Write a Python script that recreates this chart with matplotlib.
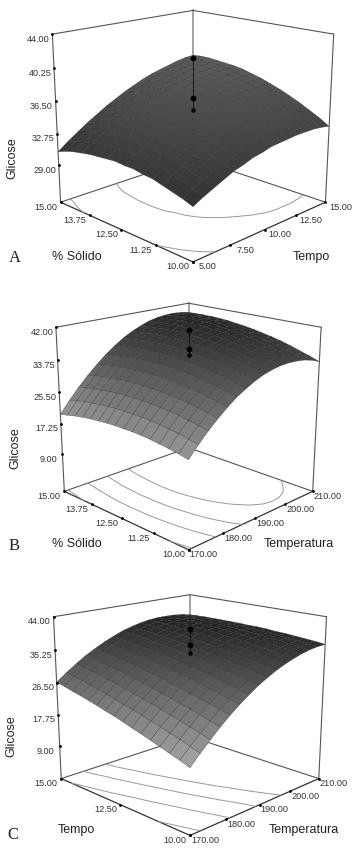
import numpy as np
import matplotlib
matplotlib.use('Agg')
import matplotlib.pyplot as plt
from mpl_toolkits.mplot3d import proj3d

plt.rcParams['font.family'] = ['Liberation Sans', 'DejaVu Sans']

# valores
tempo_grid = [5.0, 5.67, 6.33, 7.0, 7.67, 8.33, 9.0, 9.67, 10.33, 11.0, 11.67, 12.33, 13.0, 13.67, 14.33, 15.0]
temp_grid = [170.0, 172.67, 175.33, 178.0, 180.67, 183.33, 186.0, 188.67, 191.33, 194.0, 196.67, 199.33, 202.0, 204.67, 207.33, 210.0]
solido_grid = [10.0, 10.33, 10.67, 11.0, 11.33, 11.67, 12.0, 12.33, 12.67, 13.0, 13.33, 13.67, 14.0, 14.33, 14.67, 15.0]

z_a = [
    [30.3, 30.9, 31.4, 31.9, 32.4, 32.7, 33.1, 33.3, 33.6, 33.7, 33.8, 33.9, 33.9, 33.9, 33.8, 33.6],
    [30.7, 31.3, 31.9, 32.4, 32.8, 33.2, 33.6, 33.9, 34.1, 34.3, 34.4, 34.5, 34.5, 34.5, 34.4, 34.3],
    [31.0, 31.7, 32.2, 32.8, 33.2, 33.7, 34.0, 34.3, 34.6, 34.8, 35.0, 35.1, 35.1, 35.1, 35.0, 34.9],
    [31.3, 32.0, 32.6, 33.1, 33.6, 34.0, 34.4, 34.8, 35.0, 35.3, 35.4, 35.6, 35.6, 35.6, 35.6, 35.5],
    [31.6, 32.2, 32.8, 33.4, 33.9, 34.4, 34.8, 35.1, 35.4, 35.7, 35.9, 36.0, 36.1, 36.1, 36.1, 36.0],
    [31.7, 32.4, 33.1, 33.6, 34.2, 34.7, 35.1, 35.5, 35.8, 36.0, 36.2, 36.4, 36.5, 36.6, 36.6, 36.5],
    [31.9, 32.6, 33.2, 33.8, 34.4, 34.9, 35.3, 35.7, 36.1, 36.3, 36.6, 36.7, 36.9, 36.9, 37.0, 36.9],
    [31.9, 32.7, 33.3, 34.0, 34.5, 35.0, 35.5, 35.9, 36.3, 36.6, 36.8, 37.0, 37.2, 37.3, 37.3, 37.3],
    [32.0, 32.7, 33.4, 34.0, 34.6, 35.2, 35.7, 36.1, 36.5, 36.8, 37.1, 37.3, 37.4, 37.5, 37.6, 37.6],
    [31.9, 32.7, 33.4, 34.1, 34.7, 35.2, 35.7, 36.2, 36.6, 36.9, 37.2, 37.5, 37.6, 37.8, 37.8, 37.9],
    [31.8, 32.6, 33.4, 34.0, 34.7, 35.2, 35.8, 36.2, 36.6, 37.0, 37.3, 37.6, 37.8, 37.9, 38.0, 38.1],
    [31.7, 32.5, 33.3, 34.0, 34.6, 35.2, 35.7, 36.2, 36.7, 37.1, 37.4, 37.7, 37.9, 38.0, 38.2, 38.2],
    [31.5, 32.3, 33.1, 33.8, 34.5, 35.1, 35.7, 36.2, 36.6, 37.0, 37.4, 37.7, 37.9, 38.1, 38.2, 38.3],
    [31.3, 32.1, 32.9, 33.6, 34.3, 35.0, 35.5, 36.1, 36.5, 37.0, 37.3, 37.6, 37.9, 38.1, 38.3, 38.4],
    [31.0, 31.8, 32.6, 33.4, 34.1, 34.8, 35.4, 35.9, 36.4, 36.8, 37.2, 37.6, 37.8, 38.1, 38.2, 38.4],
    [30.6, 31.5, 32.3, 33.1, 33.8, 34.5, 35.1, 35.7, 36.2, 36.7, 37.1, 37.4, 37.7, 38.0, 38.2, 38.3],
]
z_b = [
    [20.1, 22.7, 25.1, 27.2, 29.1, 30.8, 32.1, 33.3, 34.2, 34.8, 35.2, 35.3, 35.2, 34.9, 34.3, 33.4],
    [20.6, 23.2, 25.6, 27.8, 29.7, 31.4, 32.8, 34.0, 34.9, 35.5, 36.0, 36.1, 36.0, 35.7, 35.1, 34.3],
    [21.0, 23.7, 26.1, 28.3, 30.2, 31.9, 33.4, 34.6, 35.5, 36.2, 36.6, 36.8, 36.8, 36.5, 35.9, 35.1],
    [21.3, 24.0, 26.5, 28.7, 30.7, 32.4, 33.9, 35.1, 36.0, 36.8, 37.2, 37.5, 37.4, 37.2, 36.6, 35.9],
    [21.6, 24.3, 26.8, 29.0, 31.0, 32.8, 34.3, 35.5, 36.5, 37.3, 37.8, 38.0, 38.0, 37.8, 37.3, 36.6],
    [21.8, 24.5, 27.0, 29.3, 31.3, 33.1, 34.6, 35.9, 37.0, 37.7, 38.3, 38.5, 38.6, 38.4, 37.9, 37.2],
    [21.9, 24.7, 27.2, 29.5, 31.6, 33.4, 34.9, 36.2, 37.3, 38.1, 38.7, 39.0, 39.0, 38.8, 38.4, 37.7],
    [21.9, 24.7, 27.3, 29.6, 31.7, 33.6, 35.1, 36.5, 37.6, 38.4, 39.0, 39.3, 39.4, 39.3, 38.8, 38.2],
    [21.9, 24.7, 27.3, 29.7, 31.8, 33.7, 35.3, 36.7, 37.8, 38.6, 39.2, 39.6, 39.7, 39.6, 39.2, 38.6],
    [21.8, 24.7, 27.3, 29.7, 31.8, 33.7, 35.4, 36.8, 37.9, 38.8, 39.4, 39.8, 40.0, 39.9, 39.5, 38.9],
    [21.6, 24.5, 27.2, 29.6, 31.8, 33.7, 35.4, 36.8, 38.0, 38.9, 39.6, 40.0, 40.2, 40.1, 39.7, 39.2],
    [21.4, 24.3, 27.0, 29.5, 31.6, 33.6, 35.3, 36.7, 37.9, 38.9, 39.6, 40.0, 40.2, 40.2, 39.9, 39.4],
    [21.1, 24.0, 26.7, 29.2, 31.5, 33.4, 35.2, 36.6, 37.9, 38.8, 39.6, 40.0, 40.3, 40.3, 40.0, 39.5],
    [20.7, 23.7, 26.4, 28.9, 31.2, 33.2, 34.9, 36.4, 37.7, 38.7, 39.5, 40.0, 40.2, 40.2, 40.0, 39.5],
    [20.2, 23.3, 26.0, 28.6, 30.8, 32.9, 34.7, 36.2, 37.5, 38.5, 39.3, 39.8, 40.1, 40.2, 40.0, 39.5],
    [19.7, 22.8, 25.6, 28.1, 30.4, 32.5, 34.3, 35.9, 37.2, 38.2, 39.1, 39.6, 39.9, 40.0, 39.8, 39.4],
]
z_c = [
    [16.3, 18.9, 21.3, 23.6, 25.7, 27.6, 29.3, 30.9, 32.2, 33.4, 34.4, 35.2, 35.9, 36.4, 36.7, 36.8],
    [17.2, 19.7, 22.1, 24.3, 26.4, 28.2, 29.9, 31.4, 32.7, 33.9, 34.9, 35.7, 36.3, 36.7, 37.0, 37.1],
    [18.0, 20.6, 22.9, 25.1, 27.1, 28.9, 30.5, 32.0, 33.3, 34.4, 35.3, 36.1, 36.6, 37.0, 37.2, 37.3],
    [18.8, 21.3, 23.6, 25.8, 27.7, 29.5, 31.1, 32.5, 33.8, 34.8, 35.7, 36.4, 37.0, 37.3, 37.5, 37.5],
    [19.6, 22.1, 24.3, 26.4, 28.4, 30.1, 31.6, 33.0, 34.2, 35.3, 36.1, 36.8, 37.3, 37.6, 37.7, 37.7],
    [20.4, 22.8, 25.0, 27.1, 29.0, 30.7, 32.2, 33.5, 34.7, 35.7, 36.5, 37.1, 37.5, 37.8, 37.9, 37.8],
    [21.1, 23.5, 25.7, 27.7, 29.5, 31.2, 32.7, 34.0, 35.1, 36.0, 36.8, 37.4, 37.8, 38.0, 38.1, 38.0],
    [21.9, 24.2, 26.3, 28.3, 30.1, 31.7, 33.1, 34.4, 35.5, 36.4, 37.1, 37.6, 38.0, 38.2, 38.2, 38.1],
    [22.6, 24.8, 26.9, 28.9, 30.6, 32.2, 33.6, 34.8, 35.8, 36.7, 37.4, 37.9, 38.2, 38.4, 38.4, 38.1],
    [23.2, 25.5, 27.5, 29.4, 31.1, 32.7, 34.0, 35.2, 36.2, 37.0, 37.7, 38.1, 38.4, 38.5, 38.4, 38.2],
    [23.9, 26.1, 28.1, 29.9, 31.6, 33.1, 34.4, 35.5, 36.5, 37.3, 37.9, 38.3, 38.5, 38.6, 38.5, 38.2],
    [24.5, 26.7, 28.6, 30.4, 32.1, 33.5, 34.8, 35.9, 36.8, 37.5, 38.1, 38.5, 38.7, 38.7, 38.6, 38.2],
    [25.1, 27.2, 29.1, 30.9, 32.5, 33.9, 35.1, 36.2, 37.1, 37.8, 38.3, 38.6, 38.8, 38.8, 38.6, 38.2],
    [25.6, 27.7, 29.6, 31.3, 32.9, 34.3, 35.4, 36.5, 37.3, 38.0, 38.4, 38.7, 38.9, 38.8, 38.6, 38.2],
    [26.2, 28.2, 30.1, 31.8, 33.3, 34.6, 35.7, 36.7, 37.5, 38.1, 38.6, 38.8, 38.9, 38.8, 38.5, 38.1],
    [26.7, 28.7, 30.5, 32.2, 33.6, 34.9, 36.0, 37.0, 37.7, 38.3, 38.7, 38.9, 38.9, 38.8, 38.5, 38.0],
]

tempo_ticks = [5.0, 7.5, 10.0, 12.5, 15.0]
temp_ticks = [170.0, 180.0, 190.0, 200.0, 210.0]
solido_ticks = [10.0, 11.25, 12.5, 13.75, 15.0]
glicose_ticks_a = [29.0, 32.75, 36.5, 40.25, 44.0]
glicose_ticks_b = [9.0, 17.25, 25.5, 33.75, 42.0]
glicose_ticks_c = [9.0, 17.75, 26.5, 35.25, 44.0]

pontos_a = [41.4, 36.9, 35.45]
pontos_b = [41.4, 36.7, 35.1]
pontos_c = [40.8, 36.5, 34.6]

niveis_a = [31.5, 35.0]
niveis_b = [21.0, 27.0, 32.0, 36.2]
niveis_c = [19.0, 26.0, 31.0, 34.5]

W, H = 358, 858
fig = plt.figure(figsize=(W / 100, H / 100), dpi=100)


def rotulo(ax, M, x, y, z, txt, dx, dy):
    px, py, _ = proj3d.proj_transform(x, y, z, M)
    ax.annotate(txt, xy=(px, py), xytext=(dx, dy), textcoords='offset pixels',
                ha='center', va='center', fontsize=6.6, color='#333333', annotation_clip=False)


def painel(cx, cy, lado, xs, ys, zs, xticks, yticks, zticks, pontos, niveis, piso, cores, altura=0.95, elev=17):
    # posicao do eixo em pixels da figura
    bottom = H - (cy + 0.5135 * lado)
    ax = fig.add_axes([(cx - 0.5135 * lado) / W, bottom / H, lado / W, lado / H], projection='3d')
    ax.computed_zorder = False
    ax.patch.set_visible(False)
    ax.set_proj_type('persp', focal_length=0.5)
    ax.view_init(elev=elev, azim=-135)
    ax.set_box_aspect((1, 1, altura))
    ax.set_axis_off()

    X, Y = np.meshgrid(xs, ys)
    Z = np.array(zs)
    x0, x1 = xs[0], xs[-1]
    y0, y1 = ys[0], ys[-1]
    topo = zticks[-1]

    # caixa (parte de tras)
    ax.plot([x1, x1], [y1, y1], [piso, topo], color='#8a8a8a', lw=1.1, zorder=1)
    for a, b, c in [([x0, x0], [y1, y1], [piso, topo]), ([x1, x1], [y0, y0], [piso, topo]),
                    ([x0, x1], [y1, y1], [topo, topo]), ([x1, x1], [y1, y0], [topo, topo]),
                    ([x0, x1], [y1, y1], [piso, piso]), ([x1, x1], [y1, y0], [piso, piso])]:
        ax.plot(a, b, c, color='#555555', lw=0.8, zorder=1)
    ax.plot([x0, x0], [y0, y1], [piso, piso], color='#333333', lw=0.9, zorder=1)
    ax.plot([x0, x1], [y0, y0], [piso, piso], color='#333333', lw=0.9, zorder=1)

    ax.contour(X, Y, Z, levels=niveis, zdir='z', offset=piso, colors='#999999', linewidths=0.7, zorder=2)

    # superficie em tons de cinza pela altura
    t = (Z - Z.min()) / (Z.max() - Z.min())
    g = cores[0] + (cores[1] - cores[0]) * t
    fc = np.dstack([g, g, g, np.ones_like(g)])
    ax.plot_surface(X, Y, Z, facecolors=fc, shade=False, rstride=1, cstride=1,
                    edgecolor='#262626', linewidth=0.2, zorder=3)

    # pontos do planejamento
    xm, ym = (x0 + x1) / 2, (y0 + y1) / 2
    ax.plot([xm] * 3, [ym] * 3, pontos, color='#111111', lw=0.6, zorder=4)
    ax.plot([xm] * 2, [ym] * 2, pontos[:2], 'o', color='black', ms=3.2, zorder=5)
    ax.plot([xm], [ym], pontos[2:], 'o', color='black', ms=2.2, zorder=5)

    # marcas dos eixos
    ax.plot(xticks, [y0] * 5, [piso] * 5, 'o', color='black', ms=1.0, zorder=5)
    ax.plot([x0] * 5, yticks, [piso] * 5, 'o', color='black', ms=1.0, zorder=5)
    ax.plot([x0] * 5, [y1] * 5, zticks, 'o', color='black', ms=1.0, zorder=5)

    ax.set_xlim(x0, x1, view_margin=0)
    ax.set_ylim(y0, y1, view_margin=0)
    ax.set_zlim(piso, topo, view_margin=0)
    ax.set_xticks([])
    ax.set_yticks([])
    ax.set_zticks([])
    ax.xaxis.set_visible(False)
    ax.yaxis.set_visible(False)
    ax.zaxis.set_visible(False)

    M = ax.get_proj()
    for v in xticks:
        rotulo(ax, M, v, y0, piso, '%.2f' % v, 15, -5)
    for v in yticks:
        rotulo(ax, M, x0, v, piso, '%.2f' % v, -15, -5)
    for v in zticks:
        rotulo(ax, M, x0, y1, v, '%.2f' % v, -14, -5)
    return ax


painel(193, 120.7, 315, tempo_grid, solido_grid, z_a, tempo_ticks, solido_ticks, glicose_ticks_a,
       pontos_a, niveis_a, 24.5, (0.20, 0.36), altura=0.91)
painel(188.5, 412, 300, temp_grid, solido_grid, z_b, temp_ticks, solido_ticks, glicose_ticks_b,
       pontos_b, niveis_b, -1.3, (0.58, 0.15), altura=0.95, elev=18)
painel(190, 700, 305, temp_grid, solido_grid, z_c, temp_ticks, tempo_ticks, glicose_ticks_c,
       pontos_c, niveis_c, -0.3, (0.62, 0.14), altura=0.90, elev=16.5)


def texto(px, py, txt, **kw):
    fig.text(px / W, 1 - py / H, txt, ha='center', va='center', color='#222222', **kw)


glicose_pos = [(12, 158), (15, 448), (11, 736)]
for p in glicose_pos:
    texto(p[0], p[1], 'Glicose', fontsize=9, rotation=90)
texto(77, 257, '% Sólido', fontsize=9)
texto(311, 257, 'Tempo', fontsize=9)
texto(77, 544, '% Sólido', fontsize=9)
texto(299, 544, 'Temperatura', fontsize=9)
texto(76, 830, 'Tempo', fontsize=9)
texto(304, 830, 'Temperatura', fontsize=9)
for p, letra in zip([(15, 258), (14, 546), (13, 835)], 'ABC'):
    texto(p[0], p[1], letra, fontsize=12, family='Liberation Serif')

fig.savefig('out.png', dpi=100)
